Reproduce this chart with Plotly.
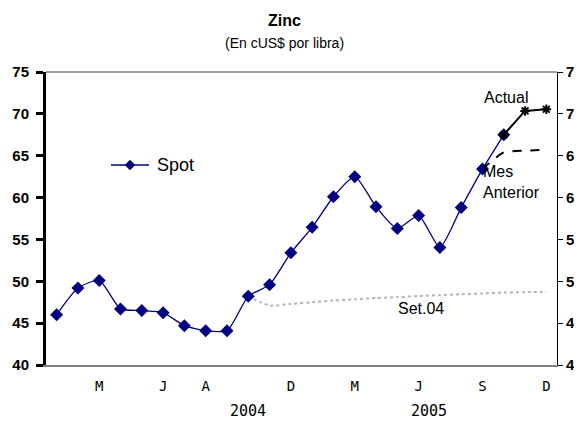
import plotly.graph_objects as go

periods = ["Ene04", "Feb04", "Mar04", "Abr04", "May04", "Jun04", "Jul04", "Ago04",
           "Sep04", "Oct04", "Nov04", "Dic04", "Ene05", "Feb05", "Mar05", "Abr05",
           "May05", "Jun05", "Jul05", "Ago05", "Sep05", "Oct05", "Nov05", "Dic05"]

spot = [46.0, 49.2, 50.1, 46.7, 46.5, 46.25, 44.7, 44.1, 44.1, 48.2, 49.6, 53.4,
        56.45, 60.1, 62.5, 58.9, 56.3, 57.85, 54.05, 58.8, 63.4, 67.5]

set04_periods = periods[9:]
set04 = [48.2, 47.1, 47.3, 47.5, 47.7, 47.85, 48.0, 48.1, 48.25, 48.35, 48.45,
         48.55, 48.65, 48.7, 48.75]

mes_ant_periods = periods[20:]
mes_anterior = [63.4, 65.4, 65.6, 65.7]

actual_periods = periods[21:]
actual = [67.5, 70.35, 70.55]

tick_periods = ["Mar04", "Jun04", "Ago04", "Dic04", "Mar05", "Jun05", "Sep05", "Dic05"]
tick_labels = ["M", "J", "A", "D", "M", "J", "S", "D"]
years = ["2004", "2005"]
year_pos = [9, 17.5]

idx = {p: i for i, p in enumerate(periods)}

# page is offset by the 8px body margin
OFF = 8
L, T, PW, PH = 38, 64, 511, 293
FW, FH = 574, 413


def px(sx):
    return (sx - OFF - L) / PW


def py(sy):
    return 1 - (sy - OFF - T) / PH


fig = go.Figure()

fig.add_trace(go.Scatter(
    x=[idx[p] for p in set04_periods], y=set04, mode="lines",
    line=dict(color="#b4b4b4", width=2, dash="dot", shape="spline", smoothing=0.6),
    showlegend=False, hoverinfo="skip"))

fig.add_trace(go.Scatter(
    x=[idx[p] for p in mes_ant_periods], y=mes_anterior, mode="lines",
    line=dict(color="black", width=2, dash="dash", shape="spline", smoothing=0.6),
    showlegend=False))

fig.add_trace(go.Scatter(
    x=list(range(len(spot))), y=spot, mode="lines+markers", name="Spot",
    line=dict(color="#000080", width=1.3, shape="spline", smoothing=0.6),
    marker=dict(symbol="diamond", size=10, color="#000080"),
    showlegend=False))

fig.add_trace(go.Scatter(
    x=[idx[p] for p in actual_periods], y=actual, mode="lines+markers",
    line=dict(color="black", width=2),
    marker=dict(symbol="asterisk-open", size=8, color="black",
                line=dict(color="black", width=2)),
    showlegend=False))

# invisible traces to activate the extra axes
fig.add_trace(go.Scatter(x=[0], y=[40], yaxis="y2", mode="markers",
                         marker=dict(opacity=0), showlegend=False, hoverinfo="skip"))
fig.add_trace(go.Scatter(x=[0], y=[40], yaxis="y3", mode="markers",
                         marker=dict(opacity=0), showlegend=False, hoverinfo="skip"))

lab = dict(family="Liberation Sans, Arial", size=15, color="black", weight="bold")

fig.update_layout(
    width=FW, height=FH,
    margin=dict(l=L, r=FW - L - PW, t=T, b=FH - T - PH, pad=0, autoexpand=False),
    paper_bgcolor="white", plot_bgcolor="white",
    showlegend=False,
    xaxis=dict(range=[-0.5, 23.5], tickvals=[idx[p] for p in tick_periods],
               ticktext=tick_labels, showgrid=False, zeroline=False,
               ticks="", ticklabelstandoff=7, automargin=False,
               tickfont=dict(family="DejaVu Sans Mono", size=14, color="black"),
               showline=True, linecolor="#808080", linewidth=2, mirror=False),
    # left axis: line and tick marks only
    yaxis=dict(range=[40, 75], dtick=5, showgrid=False, zeroline=False,
               ticks="outside", ticklen=7, tickwidth=2.5, tickcolor="black",
               showticklabels=False, automargin=False,
               showline=True, linecolor="black", linewidth=3),
    # left axis labels, pushed away from the line
    yaxis3=dict(range=[40, 75], dtick=5, overlaying="y", side="left",
                showgrid=False, zeroline=False, ticks="outside", ticklen=13,
                tickcolor="rgba(0,0,0,0)", showline=False, automargin=False,
                tickfont=lab),
    yaxis2=dict(range=[40, 75], dtick=5, overlaying="y", side="right",
                showgrid=False, zeroline=False, ticks="outside", ticklen=5,
                tickcolor="black", showline=True, linecolor="black", linewidth=1,
                automargin=False, tickfont=lab),
)

# top border
fig.add_shape(type="line", xref="paper", yref="paper", x0=0, x1=1, y0=1, y1=1,
              line=dict(color="#808080", width=1.5), layer="below")

# legend sample for Spot
fig.add_shape(type="line", xref="paper", yref="paper", x0=px(111), x1=px(149),
              y0=py(165), y1=py(165), line=dict(color="#000080", width=1.3))
fig.add_shape(type="path", xref="paper", yref="paper", xsizemode="pixel",
              ysizemode="pixel", xanchor=px(130), yanchor=py(165),
              path="M0,5 L5,0 L0,-5 L-5,0 Z", fillcolor="#000080",
              line=dict(color="#000080", width=0.5))
fig.add_annotation(text="Spot", xref="paper", yref="paper", x=px(155), y=py(165),
                   showarrow=False, xanchor="left", yanchor="middle",
                   font=dict(family="Liberation Sans, Arial", size=18, color="black"))

fig.add_annotation(text="<b>Zinc</b>", xref="paper", yref="paper", x=px(284), y=py(20),
                   showarrow=False, xanchor="center", yanchor="middle",
                   font=dict(family="Liberation Sans, Arial", size=16, color="black"))
fig.add_annotation(text="(En cUS$ por libra)", xref="paper", yref="paper",
                   x=px(284), y=py(43), showarrow=False, xanchor="center",
                   yanchor="middle",
                   font=dict(family="Liberation Sans, Arial", size=14, color="black"))

txt = dict(family="Liberation Sans, Arial", size=16, color="black")
fig.add_annotation(text="Actual", xref="paper", yref="paper", x=px(482), y=py(97),
                   showarrow=False, xanchor="left", yanchor="middle", font=txt)
fig.add_annotation(text="Mes<br>Anterior", xref="paper", yref="paper", x=px(481),
                   y=py(182), showarrow=False, xanchor="left", yanchor="middle",
                   align="left", font=txt)
fig.add_annotation(text="Set.04", xref="paper", yref="paper", x=px(396), y=py(308),
                   showarrow=False, xanchor="left", yanchor="middle", font=txt)

for yr, xp in zip(years, year_pos):
    fig.add_annotation(text=yr, x=xp, xref="x", yref="paper", y=py(411),
                       showarrow=False, xanchor="center", yanchor="middle",
                       font=dict(family="DejaVu Sans Mono", size=15, color="black"))

fig.write_html("out.html")
